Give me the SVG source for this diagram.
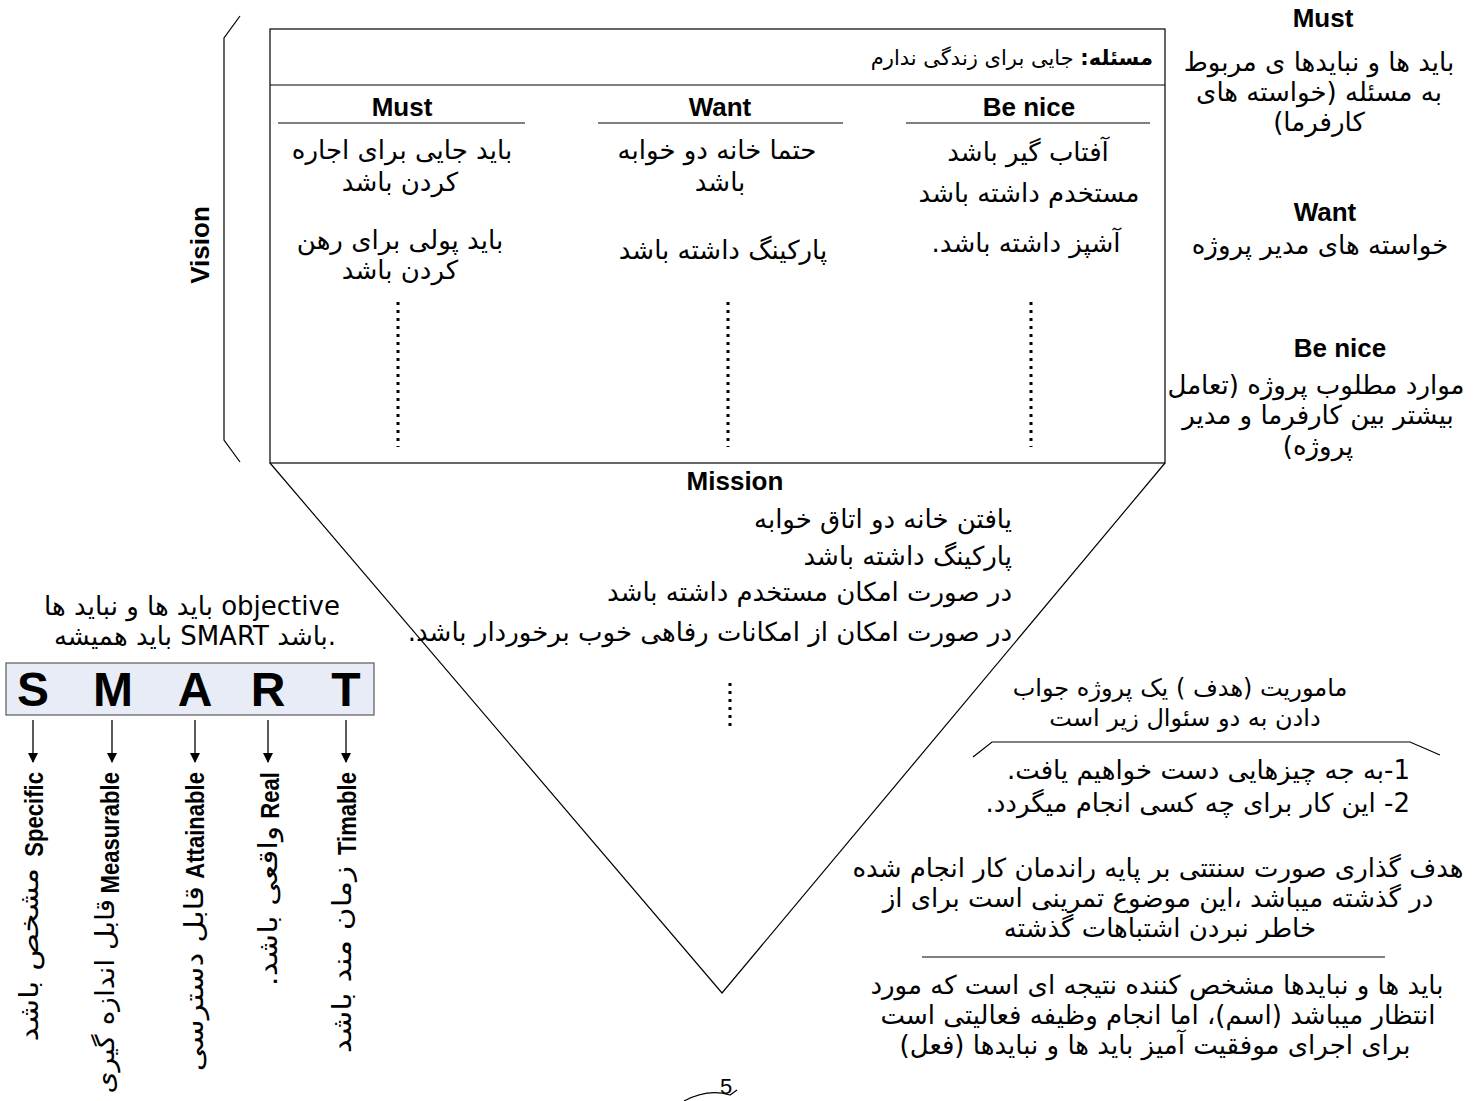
<svg xmlns="http://www.w3.org/2000/svg" width="1479" height="1101" viewBox="0 0 1479 1101">
<style>
.fa{font-family:"DejaVu Sans","Noto Sans",sans-serif;font-size:26px;fill:#000}
.fn{font-family:"DejaVu Sans","Noto Sans",sans-serif;font-size:24px;fill:#000}
.fv{font-family:"DejaVu Sans","Noto Sans",sans-serif;font-size:26px;fill:#000}
.en{font-family:"Liberation Sans",Arial,sans-serif;font-weight:bold;font-size:26px;fill:#000}
.ev{font-family:"Liberation Sans",Arial,sans-serif;font-weight:bold;font-size:26px;fill:#000}
.big{font-family:"Liberation Sans",Arial,sans-serif;font-weight:bold;font-size:48px;fill:#000}
.ln{stroke:#000;stroke-width:1.2;fill:none}
.dot{stroke:#000;stroke-width:3;stroke-dasharray:3 5;fill:none}
.arr{stroke:#000;stroke-width:1.3}
</style>
<defs>
<marker id="ah" markerWidth="10" markerHeight="10" refX="9" refY="5" orient="auto" markerUnits="userSpaceOnUse">
<path d="M0,0 L10,5 L0,10 z" fill="#000"/>
</marker>
</defs>
<rect width="1479" height="1101" fill="#fff"/>

<g id="vision-bracket">
<path class="ln" d="M240,16 L224,38 L224,440 L240,462"/>
<text class="en" transform="translate(209,245) rotate(-90)" text-anchor="middle">Vision</text>
</g>

<g id="vision-box">
<rect x="270" y="29" width="895" height="434" class="ln"/>
<line x1="270" y1="85" x2="1165" y2="85" class="ln"/>
<text class="fa" style="font-size:21px" x="1153" y="65" direction="rtl" text-anchor="start"><tspan font-weight="bold">مسئله:</tspan> جایی برای زندگی ندارم</text>
</g>

<g id="col-must">
<text class="en" x="402" y="116" text-anchor="middle">Must</text>
<line x1="278" y1="123" x2="525" y2="123" class="ln"/>
<text class="fa" x="402" y="159" text-anchor="middle" direction="rtl">باید جایی برای اجاره</text>
<text class="fa" x="400" y="191" text-anchor="middle" direction="rtl">کردن باشد</text>
<text class="fa" x="400" y="249" text-anchor="middle" direction="rtl">باید پولی برای رهن</text>
<text class="fa" x="400" y="279" text-anchor="middle" direction="rtl">کردن باشد</text>
<line x1="398" y1="302" x2="398" y2="447" class="dot"/>
</g>

<g id="col-want">
<text class="en" x="720" y="116" text-anchor="middle">Want</text>
<line x1="598" y1="123" x2="843" y2="123" class="ln"/>
<text class="fa" x="717" y="159" text-anchor="middle" direction="rtl">حتما خانه دو خوابه</text>
<text class="fa" x="720" y="191" text-anchor="middle" direction="rtl">باشد</text>
<text class="fa" x="723" y="259" text-anchor="middle" direction="rtl">پارکینگ داشته باشد</text>
<line x1="728" y1="302" x2="728" y2="447" class="dot"/>
</g>

<g id="col-benice">
<text class="en" x="1029" y="116" text-anchor="middle">Be nice</text>
<line x1="906" y1="123" x2="1150" y2="123" class="ln"/>
<text class="fa" x="1028" y="161" text-anchor="middle" direction="rtl">آفتاب گیر باشد</text>
<text class="fa" x="1029" y="202" text-anchor="middle" direction="rtl">مستخدم داشته باشد</text>
<text class="fa" x="1026" y="252" text-anchor="middle" direction="rtl">آشپز داشته باشد.</text>
<line x1="1031" y1="302" x2="1031" y2="447" class="dot"/>
</g>

<g id="mission">
<path class="ln" d="M270,463 L722,993 L1165,463"/>
<text class="en" x="735" y="490" text-anchor="middle">Mission</text>
<text class="fa" x="1012" y="528" direction="rtl" text-anchor="start">یافتن خانه دو اتاق خوابه</text>
<text class="fa" x="1012" y="565" direction="rtl" text-anchor="start">پارکینگ داشته باشد</text>
<text class="fa" x="1012" y="601" direction="rtl" text-anchor="start">در صورت امکان مستخدم داشته باشد</text>
<text class="fa" x="1012" y="641" direction="rtl" text-anchor="start">در صورت امکان از امکانات رفاهی خوب برخوردار باشد.</text>
<line x1="730" y1="683" x2="730" y2="730" class="dot"/>
</g>

<g id="legend-right">
<text class="en" x="1323" y="27" text-anchor="middle">Must</text>
<text class="fa" x="1319" y="71" text-anchor="middle" direction="rtl">باید ها و نبایدها ی مربوط</text>
<text class="fa" x="1319" y="101" text-anchor="middle" direction="rtl">به مسئله (خواسته های</text>
<text class="fa" x="1319" y="131" text-anchor="middle" direction="rtl">کارفرما)</text>
<text class="en" x="1325" y="221" text-anchor="middle">Want</text>
<text class="fa" x="1320" y="254" text-anchor="middle" direction="rtl">خواسته های مدیر پروژه</text>
<text class="en" x="1340" y="357" text-anchor="middle">Be nice</text>
<text class="fa" x="1316" y="394" text-anchor="middle" direction="rtl">موارد مطلوب پروژه (تعامل</text>
<text class="fa" x="1318" y="424" text-anchor="middle" direction="rtl">بیشتر بین کارفرما و مدیر</text>
<text class="fa" x="1318" y="455" text-anchor="middle" direction="rtl">پروژه)</text>
</g>

<g id="mission-notes">
<text class="fn" x="1180" y="696" text-anchor="middle" direction="rtl">ماموریت (هدف ) یک پروژه جواب</text>
<text class="fn" x="1185" y="726" text-anchor="middle" direction="rtl">دادن به دو سئوال زیر است</text>
<path class="ln" d="M973,757 L992,742 L1410,742 L1440,755"/>
<text class="fa" x="1410" y="779" direction="rtl" text-anchor="start">1-به جه چیزهایی دست خواهیم یافت.</text>
<text class="fa" x="1410" y="812" direction="rtl" text-anchor="start">2- این کار برای چه کسی انجام میگردد.</text>
</g>

<g id="notes-bottom">
<text class="fa" x="1158" y="877" text-anchor="middle" direction="rtl">هدف گذاری صورت سنتتی بر پایه راندمان کار انجام شده</text>
<text class="fa" x="1158" y="907" text-anchor="middle" direction="rtl">در گذشته میباشد ،این موضوع تمرینی است برای از</text>
<text class="fa" x="1160" y="937" text-anchor="middle" direction="rtl">خاطر نبردن اشتباهات گذشته</text>
<line x1="922" y1="957" x2="1385" y2="957" stroke="#000" stroke-width="1"/>
<text class="fa" x="1157" y="994" text-anchor="middle" direction="rtl">باید ها و نبایدها مشخص کننده نتیجه ای است که مورد</text>
<text class="fa" x="1158" y="1024" text-anchor="middle" direction="rtl">انتظار میباشد (اسم)، اما انجام وظیفه فعالیتی است</text>
<text class="fa" x="1155" y="1054" text-anchor="middle" direction="rtl">برای اجرای موفقیت آمیز باید ها و نبایدها (فعل)</text>
</g>

<g id="smart-caption">
<text class="fa" x="192" y="615" text-anchor="middle">باید ها و نباید ها objective</text>
<text class="fa" x="195" y="645" text-anchor="middle">باید همیشه  SMART باشد.</text>
</g>

<g id="smart-box">
<rect x="6" y="663" width="368" height="52" fill="#E8ECF6" stroke="#666" stroke-width="1.3"/>
<text class="big" x="33" y="706" text-anchor="middle">S</text>
<text class="big" x="113" y="706" text-anchor="middle">M</text>
<text class="big" x="195" y="706" text-anchor="middle">A</text>
<text class="big" x="268" y="706" text-anchor="middle">R</text>
<text class="big" x="346" y="706" text-anchor="middle">T</text>
</g>

<g id="connectors">
<line x1="33" y1="720" x2="33" y2="762" class="arr" marker-end="url(#ah)"/>
<line x1="112" y1="720" x2="112" y2="762" class="arr" marker-end="url(#ah)"/>
<line x1="195" y1="720" x2="195" y2="762" class="arr" marker-end="url(#ah)"/>
<line x1="268" y1="720" x2="268" y2="762" class="arr" marker-end="url(#ah)"/>
<line x1="346" y1="720" x2="346" y2="762" class="arr" marker-end="url(#ah)"/>
</g>

<g id="smart-specific">
<text class="ev" transform="translate(43,772) rotate(-90) scale(0.85,1)" text-anchor="end">Specific</text>
<text class="fv" transform="translate(38,868) rotate(-90) scale(1.2,1)" text-anchor="start" direction="rtl">مشخص باشد</text>
</g>
<g id="smart-measurable">
<text class="ev" transform="translate(119,772) rotate(-90) scale(0.85,1)" text-anchor="end">Measurable</text>
<text class="fv" transform="translate(114,899) rotate(-90) scale(1.08,1)" text-anchor="start" direction="rtl">قابل اندازه گیری</text>
</g>
<g id="smart-attainable">
<text class="ev" transform="translate(204,772) rotate(-90) scale(0.85,1)" text-anchor="end">Attainable</text>
<text class="fv" transform="translate(203,886) rotate(-90) scale(1.2,1)" text-anchor="start" direction="rtl">قابل دسترسی</text>
</g>
<g id="smart-real">
<text class="ev" transform="translate(279,772) rotate(-90) scale(0.85,1)" text-anchor="end">Real</text>
<text class="fv" transform="translate(277,826) rotate(-90) scale(1.2,1)" text-anchor="start" direction="rtl">واقعی باشد.</text>
</g>
<g id="smart-timable">
<text class="ev" transform="translate(356,772) rotate(-90) scale(0.85,1)" text-anchor="end">Timable</text>
<text class="fv" transform="translate(351,866) rotate(-90) scale(1.2,1)" text-anchor="start" direction="rtl">زمان مند باشد</text>
</g>

<g id="page-number">
<text x="726" y="1094" font-family="Liberation Sans,Arial,sans-serif" font-size="22" text-anchor="middle">5</text>
<path class="ln" d="M684,1101 Q708,1088 730,1095 L737,1090"/>
</g>
</svg>
